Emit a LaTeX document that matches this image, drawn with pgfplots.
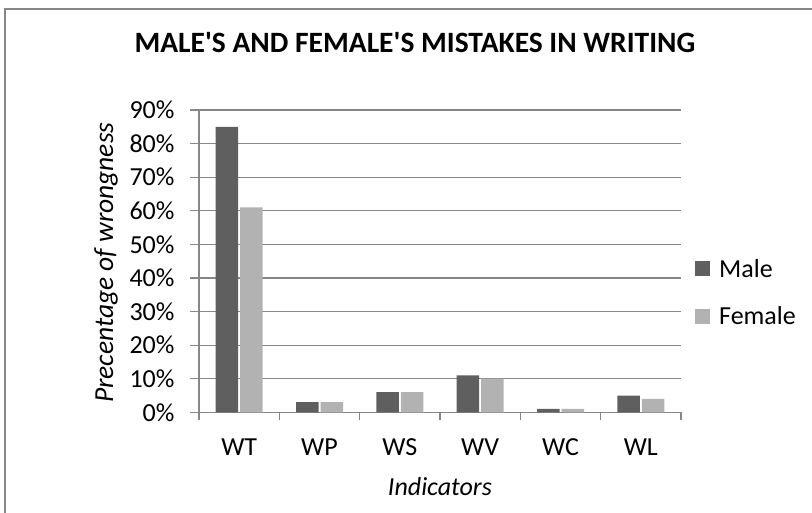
\documentclass[border=0pt]{standalone}
\usepackage{pgfplots}
\pgfplotsset{compat=1.18}
\usepackage{fontspec}
\setmainfont{Carlito}[Ligatures=TeXOff]
\definecolor{male}{HTML}{5F5F5F}
\definecolor{female}{HTML}{B2B2B2}
\definecolor{gridc}{HTML}{878787}
\begin{document}
\begin{tikzpicture}
\useasboundingbox (0,0) rectangle (812pt,512pt);
\draw[color=gridc, line width=1.2pt] (5pt,-10pt) rectangle (830pt,503pt);
\begin{axis}[
  at={(199pt,99.7pt)}, anchor=south west,
  scale only axis, width=482pt, height=302.3pt,
  xmin=-0.5, xmax=5.5, ymin=0, ymax=90,
  axis x line*=bottom, axis y line*=left,
  axis line style={color=gridc, line width=1.2pt, -},
  ybar, bar width=22.5pt,
  xtick={0,1,2,3,4,5},
  xticklabels={WT,WP,WS,WV,WC,WL},
  minor xtick={-0.5,0.5,1.5,2.5,3.5,4.5,5.5},
  major x tick style={draw=none},
  minor x tick style={color=gridc, line width=1.2pt},
  minor tick length=8pt,
  ytick={0,10,...,90},
  yticklabel={\pgfmathprintnumber{\tick}\%},
  y tick style={color=gridc, line width=1.2pt},
  major tick length=9pt,
  tick align=outside,
  ymajorgrids, grid style={color=gridc, line width=1.2pt},
  /pgf/number format/assume math mode=true,
  ticklabel style={font=\fontsize{26}{31}\selectfont},
  yticklabel style={anchor=east, xshift=-12pt},
  xticklabel style={anchor=base, yshift=-34pt},
  xlabel={\itshape Indicators},
  xlabel style={font=\fontsize{26}{31}\selectfont, at={(axis description cs:0.5,0)}, anchor=base, yshift=-82.7pt},
  ylabel={\itshape Precentage of wrongness},
  ylabel style={font=\fontsize{27.5}{32}\selectfont, at={(axis description cs:-0.1784,0.495)}, anchor=base},
  title={\bfseries MALE'S AND FEMALE'S MISTAKES IN WRITING},
  title style={font=\fontsize{29.5}{34}\selectfont, at={(axis description cs:0.448,1)}, anchor=base, yshift=52pt},
  legend style={at={(axis description cs:1,0.396)}, anchor=west, xshift=14pt, draw=none, fill=none,
    font=\fontsize{26}{31}\selectfont, inner sep=0pt, row sep=24pt,
    /tikz/every odd column/.append style={column sep=7pt}},
  legend cell align=left,
  legend image code/.code={\fill[#1] (0pt,-7.5pt) rectangle (15pt,7.5pt);},
]
\addplot[fill=male, draw=none] coordinates {(0,85) (1,3) (2,6) (3,11) (4,1) (5,5)};
\addplot[fill=female, draw=none] coordinates {(0,61) (1,3) (2,6) (3,10) (4,1) (5,4)};
\legend{Male,Female}
\end{axis}
\end{tikzpicture}
\end{document}
